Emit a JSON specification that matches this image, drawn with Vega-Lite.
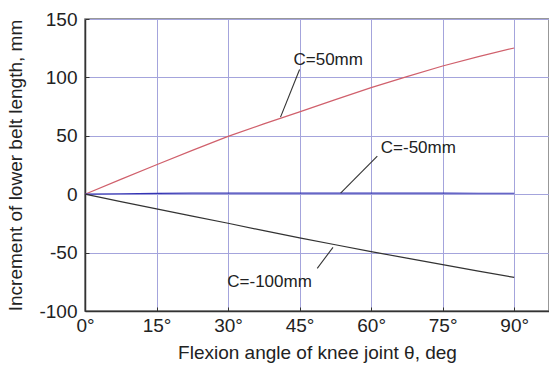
{
  "$schema": "https://vega.github.io/schema/vega-lite/v6.json",
  "width": 464,
  "height": 292,
  "autosize": {"type": "none"},
  "padding": {"left": 85, "top": 19, "right": 0, "bottom": 59},
  "background": "white",
  "config": {
    "view": {"stroke": "#777777", "strokeWidth": 1.5},
    "font": "Liberation Sans",
    "axis": {
      "labelFont": "Liberation Sans",
      "titleFont": "Liberation Sans",
      "labelFontSize": 19,
      "titleFontSize": 19,
      "titleFontWeight": "normal",
      "labelColor": "#222222",
      "titleColor": "#222222",
      "domainColor": "#333333",
      "domainWidth": 1.5,
      "tickColor": "#333333",
      "gridWidth": 1
    }
  },
  "datasets": {
    "curves": [
      {"angle": 0, "inc": 0, "series": "C=50mm"},
      {"angle": 7.5, "inc": 12.7, "series": "C=50mm"},
      {"angle": 15, "inc": 25.2, "series": "C=50mm"},
      {"angle": 22.5, "inc": 37.5, "series": "C=50mm"},
      {"angle": 30, "inc": 49.5, "series": "C=50mm"},
      {"angle": 37.5, "inc": 60.2, "series": "C=50mm"},
      {"angle": 45, "inc": 70.5, "series": "C=50mm"},
      {"angle": 52.5, "inc": 81, "series": "C=50mm"},
      {"angle": 60, "inc": 91.2, "series": "C=50mm"},
      {"angle": 67.5, "inc": 100.7, "series": "C=50mm"},
      {"angle": 75, "inc": 109.8, "series": "C=50mm"},
      {"angle": 82.5, "inc": 117.8, "series": "C=50mm"},
      {"angle": 90, "inc": 125.2, "series": "C=50mm"},
      {"angle": 0, "inc": 0, "series": "C=-50mm"},
      {"angle": 7.5, "inc": 0.4, "series": "C=-50mm"},
      {"angle": 15, "inc": 0.7, "series": "C=-50mm"},
      {"angle": 22.5, "inc": 0.9, "series": "C=-50mm"},
      {"angle": 30, "inc": 1.0, "series": "C=-50mm"},
      {"angle": 37.5, "inc": 1.0, "series": "C=-50mm"},
      {"angle": 45, "inc": 1.0, "series": "C=-50mm"},
      {"angle": 52.5, "inc": 1.0, "series": "C=-50mm"},
      {"angle": 60, "inc": 1.0, "series": "C=-50mm"},
      {"angle": 67.5, "inc": 1.0, "series": "C=-50mm"},
      {"angle": 75, "inc": 0.9, "series": "C=-50mm"},
      {"angle": 82.5, "inc": 0.8, "series": "C=-50mm"},
      {"angle": 90, "inc": 0.8, "series": "C=-50mm"},
      {"angle": 0, "inc": 0, "series": "C=-100mm"},
      {"angle": 7.5, "inc": -6.3, "series": "C=-100mm"},
      {"angle": 15, "inc": -12.5, "series": "C=-100mm"},
      {"angle": 22.5, "inc": -18.8, "series": "C=-100mm"},
      {"angle": 30, "inc": -24.9, "series": "C=-100mm"},
      {"angle": 37.5, "inc": -31.2, "series": "C=-100mm"},
      {"angle": 45, "inc": -37.4, "series": "C=-100mm"},
      {"angle": 52.5, "inc": -43.3, "series": "C=-100mm"},
      {"angle": 60, "inc": -49.1, "series": "C=-100mm"},
      {"angle": 67.5, "inc": -54.8, "series": "C=-100mm"},
      {"angle": 75, "inc": -60.3, "series": "C=-100mm"},
      {"angle": 82.5, "inc": -65.8, "series": "C=-100mm"},
      {"angle": 90, "inc": -71.2, "series": "C=-100mm"}
    ],
    "leaders": [
      {"x1": 45.0, "y1": 106.7, "x2": 41.0, "y2": 66.0},
      {"x1": 61.3, "y1": 32.6, "x2": 53.6, "y2": 0.9},
      {"x1": 48.7, "y1": -63.5, "x2": 52.0, "y2": -45.5}
    ],
    "labels": [
      {"x": 51.0, "y": 114.7, "text": "C=50mm"},
      {"x": 69.9, "y": 39.8, "text": "C=-50mm"},
      {"x": 38.7, "y": -75.5, "text": "C=-100mm"}
    ]
  },
  "layer": [
    {
      "data": {"name": "curves"},
      "mark": {"type": "line", "strokeWidth": 1.2},
      "encoding": {
        "x": {
          "field": "angle",
          "type": "quantitative",
          "scale": {"domain": [0, 97.3], "nice": false, "zero": false},
          "axis": {
            "title": "Flexion angle of knee joint θ, deg",
            "values": [0, 7.5, 15, 22.5, 30, 37.5, 45, 52.5, 60, 67.5, 75, 82.5, 90],
            "labelExpr": "datum.value % 15 === 0 ? datum.value + '°' : ''",
            "labelFlush": false,
            "labelPadding": 9,
            "tickSize": -4,
            "grid": true,
            "gridColor": {"condition": {"test": "datum.value % 15 === 0", "value": "#a4a4dc"}, "value": "transparent"},
            "titlePadding": 8
          }
        },
        "y": {
          "field": "inc",
          "type": "quantitative",
          "scale": {"domain": [-100, 150], "nice": false, "zero": false},
          "axis": {
            "title": "Increment of lower belt length, mm",
            "values": [-100, -75, -50, -25, 0, 25, 50, 75, 100, 125, 150],
            "labelExpr": "datum.value % 50 === 0 ? datum.value : ''",
            "labelFlush": false,
            "labelPadding": 12,
            "tickSize": -4,
            "grid": true,
            "gridColor": {"condition": {"test": "datum.value % 50 === 0", "value": "#a4a4dc"}, "value": "transparent"},
            "titlePadding": 13
          }
        },
        "color": {
          "field": "series",
          "type": "nominal",
          "scale": {"domain": ["C=50mm", "C=-50mm", "C=-100mm"], "range": ["#d0606c", "#3434b4", "#333333"]},
          "legend": null
        },
        "detail": {"field": "series"}
      }
    },
    {
      "data": {"name": "leaders"},
      "mark": {"type": "rule", "color": "#333333", "strokeWidth": 1.1},
      "encoding": {
        "x": {"field": "x1", "type": "quantitative"},
        "y": {"field": "y1", "type": "quantitative"},
        "x2": {"field": "x2"},
        "y2": {"field": "y2"}
      }
    },
    {
      "data": {"name": "labels"},
      "mark": {"type": "text", "font": "Liberation Sans", "fontSize": 17, "color": "#222222", "align": "center", "baseline": "middle"},
      "encoding": {
        "x": {"field": "x", "type": "quantitative"},
        "y": {"field": "y", "type": "quantitative"},
        "text": {"field": "text"}
      }
    }
  ]
}
